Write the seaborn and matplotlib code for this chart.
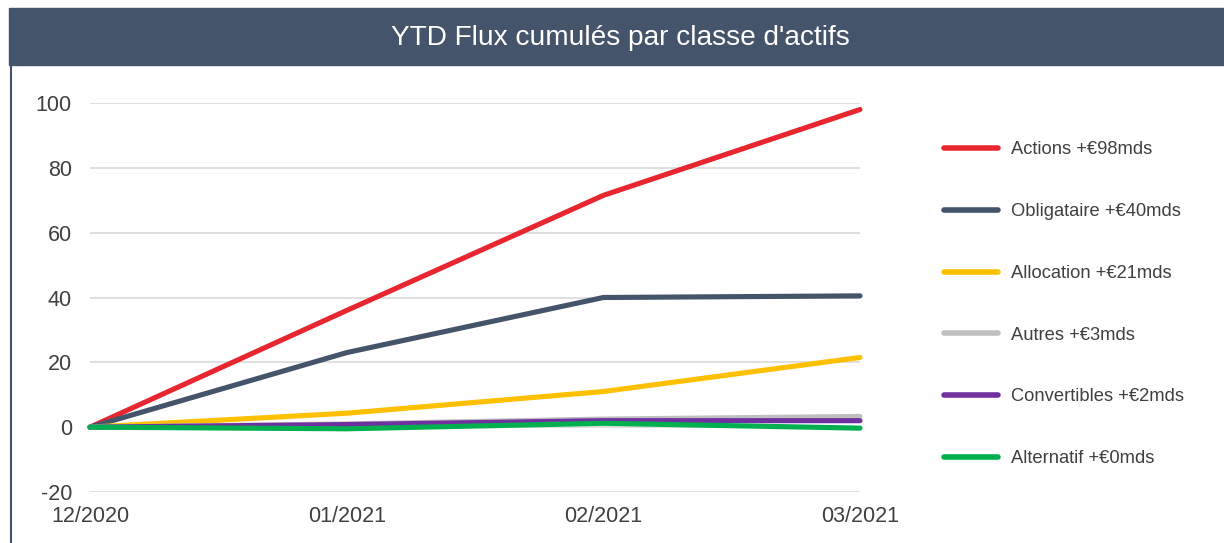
import pandas as pd
import matplotlib
matplotlib.use("Agg")
import matplotlib.pyplot as plt
import seaborn as sns
from matplotlib.patches import Rectangle

# --- Données ---
mois = ['12/2020', '01/2021', '02/2021', '03/2021']
actions = [0, 36, 71.5, 98]
obligataire = [0, 23, 40, 40.5]
allocation = [0, 4.3, 11, 21.5]
autres = [0, 1.0, 2.5, 3.3]
convertibles = [0, 0.8, 2.0, 2.0]
alternatif = [0, -0.5, 1.2, -0.3]

series = {
    'Actions +€98mds': actions,
    'Obligataire +€40mds': obligataire,
    'Allocation +€21mds': allocation,
    'Autres +€3mds': autres,
    'Convertibles +€2mds': convertibles,
    'Alternatif +€0mds': alternatif,
}
couleurs = ['#E8262F', '#44546A', '#FFC000', '#BFBFBF', '#7030A0', '#00B050']

rows = []
for nom, vals in series.items():
    for m, v in zip(mois, vals):
        rows.append({'mois': m, 'flux': v, 'classe': nom})
df = pd.DataFrame(rows)

sns.set_theme(style='white')
plt.rcParams['font.family'] = ['Liberation Sans', 'DejaVu Sans']
plt.rcParams['axes.unicode_minus'] = False

fig = plt.figure(figsize=(12.24, 5.43), dpi=100)
ax = fig.add_axes([90 / 1224, 1 - 492 / 543, 770 / 1224, 389 / 543])

sns.lineplot(data=df, x='mois', y='flux', hue='classe',
             palette=dict(zip(series.keys(), couleurs)),
             linewidth=3.7, ax=ax, sort=False)

ax.set_xlim(0, 3)
ax.set_ylim(-20, 100)
ax.set_yticks(range(-20, 101, 20))
ax.yaxis.grid(True, color='#D9D9D9', linewidth=1.2)
ax.xaxis.grid(False)
for s in ax.spines.values():
    s.set_visible(False)
for l in ax.get_lines():
    l.set_clip_on(False)
ax.set_xlabel('')
ax.set_ylabel('')
ax.tick_params(axis='y', length=0, pad=13, labelsize=15.5, labelcolor='#404040')
ax.tick_params(axis='x', length=0, pad=10, labelsize=15.5, labelcolor='#404040')

# légende à droite
handles, labels = ax.get_legend_handles_labels()
ax.get_legend().remove()
leg = fig.legend(handles, labels, loc='upper left',
                 bbox_to_anchor=(927 / 1224, 1 - 125 / 543),
                 frameon=False, fontsize=13.2, labelcolor='#404040',
                 handlelength=2.95, handletextpad=0.75, labelspacing=2.44)
for h in leg.get_lines():
    h.set_linewidth(4)
    h.set_solid_capstyle('round')

# bandeau de titre
fig.patches.append(Rectangle((9 / 1224, 1 - 65 / 543), 1215 / 1224, 57 / 543,
                             transform=fig.transFigure, color='#44546A', zorder=0))
fig.text(620 / 1224, 1 - 38 / 543, "YTD Flux cumulés par classe d'actifs",
         color='white', fontsize=20.2, ha='center', va='center')
fig.add_artist(plt.Line2D([11 / 1224, 11 / 1224], [0, 1 - 65 / 543],
                          transform=fig.transFigure, color='#44546A', linewidth=1.5))

fig.savefig('out.png', dpi=100)
